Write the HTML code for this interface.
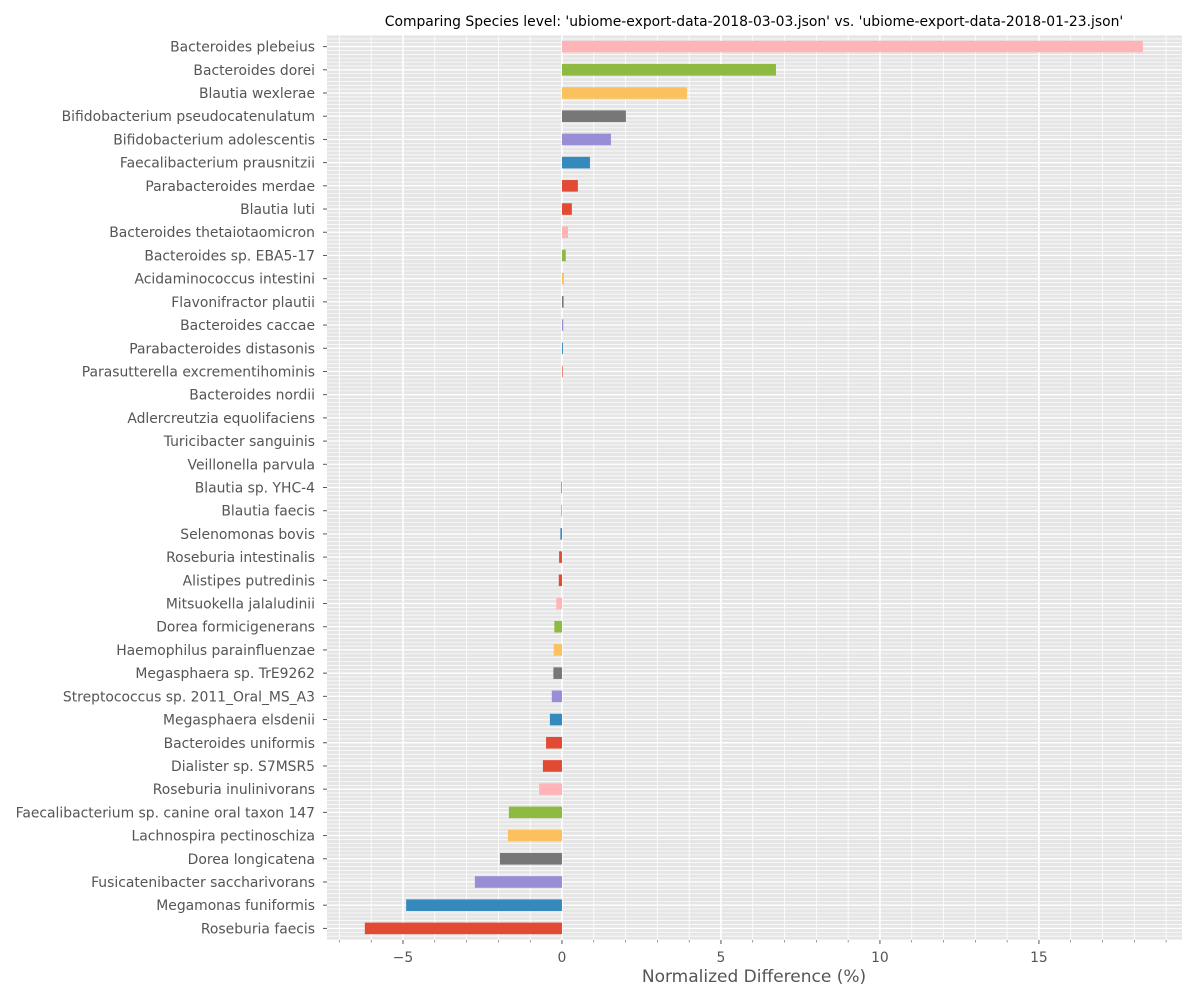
<!DOCTYPE html>
<html><head><meta charset="utf-8"><style>
body{margin:0;background:#fff;}
svg{display:block;font-family:"DejaVu Sans","Liberation Sans",sans-serif;}
</style></head><body>
<svg id="chart" width="1200" height="1000" xmlns="http://www.w3.org/2000/svg">
<text x="754" y="26" font-size="13.9" text-anchor="middle" fill="#000">Comparing Species level: 'ubiome-export-data-2018-03-03.json' vs. 'ubiome-export-data-2018-01-23.json'</text>
<rect x="327" y="35" width="855" height="905" fill="#E5E5E5"/>
<g id="grid"></g><g id="bars"></g><g id="ylabels"></g><g id="xticks"></g>
<text x="754" y="982" font-size="17" text-anchor="middle" fill="#555">Normalized Difference (%)</text>
</svg>
<script>
const categories=["Bacteroides plebeius","Bacteroides dorei","Blautia wexlerae","Bifidobacterium pseudocatenulatum","Bifidobacterium adolescentis","Faecalibacterium prausnitzii","Parabacteroides merdae","Blautia luti","Bacteroides thetaiotaomicron","Bacteroides sp. EBA5-17","Acidaminococcus intestini","Flavonifractor plautii","Bacteroides caccae","Parabacteroides distasonis","Parasutterella excrementihominis","Bacteroides nordii","Adlercreutzia equolifaciens","Turicibacter sanguinis","Veillonella parvula","Blautia sp. YHC-4","Blautia faecis","Selenomonas bovis","Roseburia intestinalis","Alistipes putredinis","Mitsuokella jalaludinii","Dorea formicigenerans","Haemophilus parainfluenzae","Megasphaera sp. TrE9262","Streptococcus sp. 2011_Oral_MS_A3","Megasphaera elsdenii","Bacteroides uniformis","Dialister sp. S7MSR5","Roseburia inulinivorans","Faecalibacterium sp. canine oral taxon 147","Lachnospira pectinoschiza","Dorea longicatena","Fusicatenibacter saccharivorans","Megamonas funiformis","Roseburia faecis"];
const values=[18.27,6.73,3.93,2.01,1.54,0.88,0.5,0.31,0.19,0.12,0.06,0.05,0.04,0.03,0.02,0,0,0,0,-0.02,-0.02,-0.05,-0.09,-0.1,-0.18,-0.24,-0.26,-0.27,-0.32,-0.38,-0.5,-0.6,-0.72,-1.67,-1.7,-1.95,-2.74,-4.9,-6.2];
const xTicks=[-5,0,5,10,15];
const xTickLabels=["\u22125","0","5","10","15"];
const palette=["#E24A33","#348ABD","#988ED5","#777777","#FBC15E","#8EBA42","#FFB5B8","#E24A33"];
const NS="http://www.w3.org/2000/svg";
const L=327,R=1182,T=35,B=940,xmin=-7.39,xmax=19.5;
const x=v=>L+(v-xmin)/(xmax-xmin)*(R-L);
const n=categories.length,step=(B-T)/n;
const y=i=>T+step*(i+0.5);
function mk(p,tag,a){const e=document.createElementNS(NS,tag);for(const k in a)e.setAttribute(k,a[k]);p.appendChild(e);return e;}
const grid=document.getElementById('grid'),bars=document.getElementById('bars'),yl=document.getElementById('ylabels'),xt=document.getElementById('xticks');
for(let v=Math.ceil(xmin);v<=xmax;v++){
 const major=v%5===0;
 const g=mk(grid,'line',{x1:x(v),x2:x(v),y1:T,y2:B,stroke:'#fff','stroke-width':major?1.6:0.8});
 
 
 const t=mk(xt,'line',{x1:x(v),x2:x(v),y1:B,y2:B+(major?4:2.5),stroke:'#555','stroke-width':major?1:0.6});
 
 
}
for(let k=0;k<=n*6;k++){
 const yy=T+step*k/6;
 const g=mk(grid,'line',{x1:L,x2:R,y1:yy,y2:yy,stroke:'#fff','stroke-width':(k%6===3)?1.4:0.7});
 
 
}
xTicks.forEach((v,i)=>{
 const t=mk(xt,'text',{x:x(v),y:B+22,'font-size':13.9,'text-anchor':'middle',fill:'#555'});
 t.textContent=xTickLabels[i];
 
 
});
categories.forEach((c,i)=>{
 const v=values[i],x0=x(0),x1=x(v);
 const b=mk(bars,'rect',{x:Math.min(x0,x1),y:y(i)-step*0.25,width:Math.abs(x1-x0),height:step*0.5,fill:palette[(n-1-i)%8]});
 
 
 const t=mk(yl,'text',{x:315,y:y(i)+5,'font-size':13.9,'text-anchor':'end',fill:'#555'});
 t.textContent=c;
 
 
 const tk=mk(yl,'line',{x1:L-4,x2:L,y1:y(i),y2:y(i),stroke:'#555','stroke-width':1});
 
 
});
</script>
</body></html>
